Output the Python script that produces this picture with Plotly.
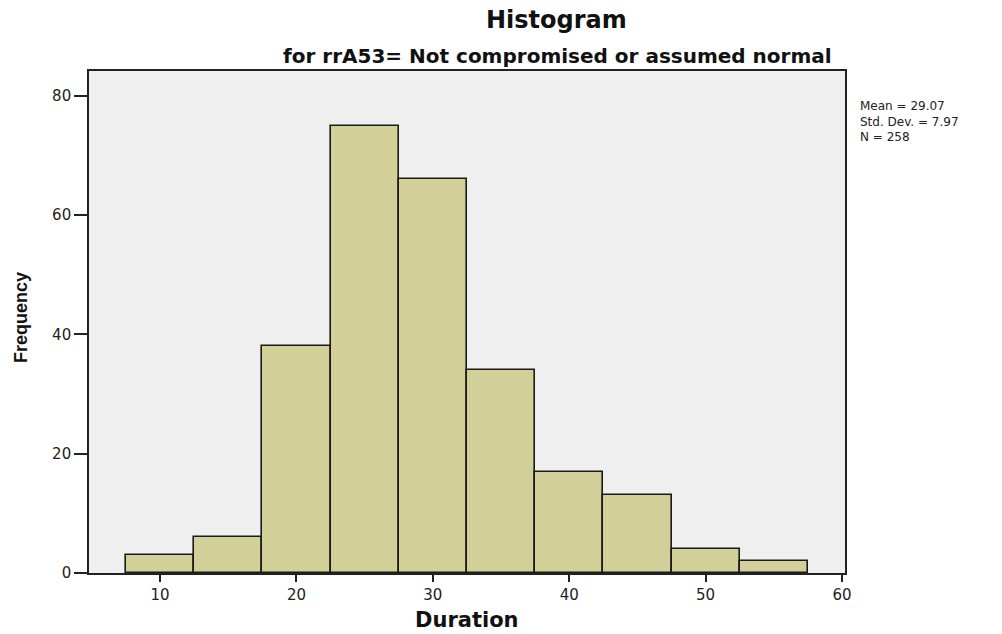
import plotly.graph_objects as go

# Data
bin_centers = [10, 15, 20, 25, 30, 35, 40, 45, 50, 55]
frequencies = [3, 6, 38, 75, 66, 34, 17, 13, 4, 2]
bin_width = 5
x_ticks = [10, 20, 30, 40, 50, 60]
y_ticks = [0, 20, 40, 60, 80]
stats_lines = ["Mean = 29.07", "Std. Dev. = 7.97", "N = 258"]

title_text = "Histogram"
subtitle_text = "for rrA53= Not compromised or assumed normal"
x_title = "Duration"
y_title = "Frequency"

# layout geometry (pixels)
W, H = 1002, 634
L, R, T, B = 89, 845, 71, 573


def px_x(p):
    return (p - L) / (R - L)


def px_y(p):
    return (B - p) / (B - T)


WIDE = "DejaVu Sans, Verdana, sans-serif"
NARROW = "Liberation Sans, Arial, sans-serif"

fig = go.Figure()
fig.add_trace(go.Bar(
    x=bin_centers,
    y=frequencies,
    width=[bin_width] * len(bin_centers),
    marker=dict(color="#d3cf98", line=dict(color="#1a1a1a", width=1.6)),
    hoverinfo="x+y",
))

fig.update_layout(
    width=W, height=H,
    margin=dict(l=L, r=W - R, t=T, b=H - B, pad=0),
    paper_bgcolor="white",
    plot_bgcolor="#efefef",
    showlegend=False,
    bargap=0,
    font=dict(family=WIDE, color="#222222", size=14),
)

fig.update_xaxes(
    range=[4.79, 60.22],
    tickvals=x_ticks,
    ticks="outside", ticklen=7, tickwidth=1.5, tickcolor="#222222",
    showline=True, linecolor="#222222", linewidth=1.6, mirror=True,
    showgrid=False, zeroline=False,
    tickfont=dict(family=WIDE, size=15, color="#222222"),
)
fig.update_yaxes(
    range=[0, 84.19],
    tickvals=y_ticks,
    ticks="outside", ticklen=13, tickwidth=1.5, tickcolor="#222222",
    showline=True, linecolor="#222222", linewidth=1.6, mirror=True,
    showgrid=False, zeroline=False,
    tickfont=dict(family=WIDE, size=15, color="#222222"),
)

annotations = [
    dict(text="<b>%s</b>" % title_text, x=px_x(556), y=px_y(20),
         font=dict(family=WIDE, size=24, color="#111111")),
    dict(text="<b>%s</b>" % subtitle_text, x=px_x(557), y=px_y(56),
         font=dict(family=WIDE, size=20, color="#111111")),
    dict(text="<b>%s</b>" % x_title, x=px_x(467), y=px_y(620),
         font=dict(family=WIDE, size=21, color="#111111")),
    dict(text="<b>%s</b>" % y_title, x=px_x(21), y=px_y(318), textangle=-90,
         font=dict(family=NARROW, size=18, color="#111111")),
    dict(text="<br>".join(stats_lines), x=px_x(858), y=px_y(97),
         xanchor="left", yanchor="top", align="left",
         font=dict(family=WIDE, size=12, color="#222222")),
]

for a in annotations:
    a.setdefault("xanchor", "center")
    a.setdefault("yanchor", "middle")
    a.update(xref="paper", yref="paper", showarrow=False)

fig.update_layout(annotations=annotations)

fig.write_html("out.html")
